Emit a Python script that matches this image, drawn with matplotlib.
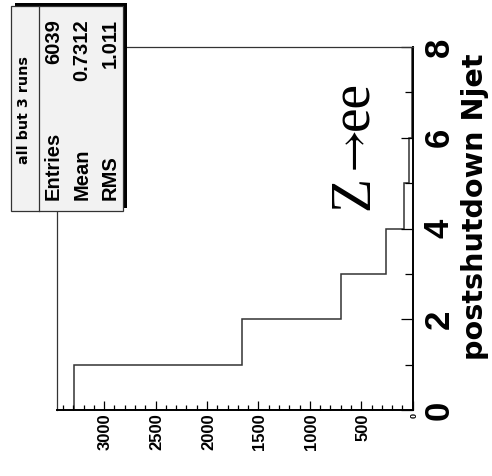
import numpy as np
import matplotlib
matplotlib.use("Agg")
import matplotlib.pyplot as plt
from matplotlib.patches import Rectangle
from matplotlib.lines import Line2D

# Njet distribution, Z->ee sample (bin k holds events with k jets)
njet_counts = [3293, 1660, 700, 263, 82, 33, 6, 2]
njet_edges = np.arange(len(njet_counts) + 1)

count_ticks = [0, 500, 1000, 1500, 2000, 2500, 3000]
count_labels = ["0", "500", "1000", "1500", "2000", "2500", "3000"]
njet_ticks = [0, 2, 4, 6, 8]
njet_labels = ["0", "2", "4", "6", "8"]

stat_title = "all but 3 runs"
stat_names = ["Entries", "Mean", "RMS"]
stat_values = ["6039", "0.7312", "1.011"]

W, H = 492, 476
plt.rcParams["mathtext.fontset"] = "stix"


def fx(x):
    return x / W


def fy(y):
    return 1 - y / H


def side_text(x, y, s, ha, va="baseline", **kw):
    # text turned 90 degrees, anchored at pixel position (x, y) from the top left
    return fig.text(fx(x), fy(y), s, rotation=90, rotation_mode="anchor",
                    ha=ha, va=va, **kw)


fig = plt.figure(figsize=(W / 100, H / 100), dpi=100)
fig.patch.set_facecolor("white")

# canvas is drawn turned on its side: counts run right-to-left, Njet bottom-to-top
ax = fig.add_axes([fx(57), fy(410), (412.7 - 57) / W, (410 - 47) / H])
ax.stairs(njet_counts, njet_edges, orientation="horizontal",
          color="#333333", lw=1.1, baseline=0)
ax.set_xlim(1.05 * max(njet_counts), 0)
ax.set_ylim(njet_edges[0], njet_edges[-1])

for side in ["top", "left"]:
    ax.spines[side].set_linewidth(0.9)
    ax.spines[side].set_color("#333333")
for side in ["bottom", "right"]:
    ax.spines[side].set_linewidth(1.4)
    ax.spines[side].set_color("black")

ax.yaxis.tick_right()
ax.set_xticks(count_ticks)
ax.set_xticks(np.arange(0, 3401, 100), minor=True)
ax.set_yticks(njet_ticks)
ax.set_yticks(np.arange(0, 9, 1), minor=True)
ax.tick_params(axis="x", which="major", direction="in", length=6.5, width=0.9, pad=2.2)
ax.tick_params(axis="x", which="minor", direction="in", length=3.6, width=0.9)
ax.tick_params(axis="y", which="major", direction="in", length=8.6, width=0.9, pad=7.4)
ax.tick_params(axis="y", which="minor", direction="in", length=5.8, width=0.9)

ax.set_xticklabels(count_labels, rotation=90, rotation_mode="anchor",
                   ha="right", va="center_baseline",
                   family="Liberation Sans", fontweight="bold", fontsize=12)
ax.get_xticklabels()[0].set_fontsize(6.5)
ax.set_yticklabels(njet_labels, rotation=90, rotation_mode="anchor",
                   ha="center", va="top",
                   family="Liberation Sans", fontweight="bold", fontsize=25)

# axis title
side_text(483, 53, "postshutdown Njet", "right", family="DejaVu Sans",
          fontweight="bold", fontsize=20.6)

# process label, set in three pieces so the arrow keeps its own width
side_text(368, 210.5, "Z", "left", family="Liberation Serif", fontsize=40)
side_text(365.5, 154.5, r"$\rightarrow$", "center", fontsize=34)
side_text(368, 81, "ee", "right", family="Liberation Serif", fontsize=40)

# stats box with its drop shadow
fig.patches.append(Rectangle((fx(15), fy(208)), (127 - 15) / W, (208 - 3) / H,
                             transform=fig.transFigure, facecolor="black",
                             edgecolor="none", zorder=5))
fig.patches.append(Rectangle((fx(11), fy(211)), (123 - 11) / W, (211 - 6) / H,
                             transform=fig.transFigure, facecolor="#f2f2f2",
                             edgecolor="#333333", lw=0.9, zorder=6))
fig.lines.append(Line2D([fx(39), fx(39)], [fy(6), fy(211)], transform=fig.transFigure,
                        color="#333333", lw=0.9, zorder=7))

side_text(28.5, 110, stat_title, "center", family="DejaVu Sans",
          fontweight="bold", fontsize=10.3, zorder=8)

row_x = [59, 87.3, 116]
for x, name, val in zip(row_x, stat_names, stat_values):
    side_text(x, 200, name, "left", family="Liberation Sans",
              fontweight="bold", fontsize=14.5, zorder=8)
    side_text(x, 19, val, "right", family="Liberation Sans",
              fontweight="bold", fontsize=14.5, zorder=8)

fig.savefig("out.png", dpi=100)
